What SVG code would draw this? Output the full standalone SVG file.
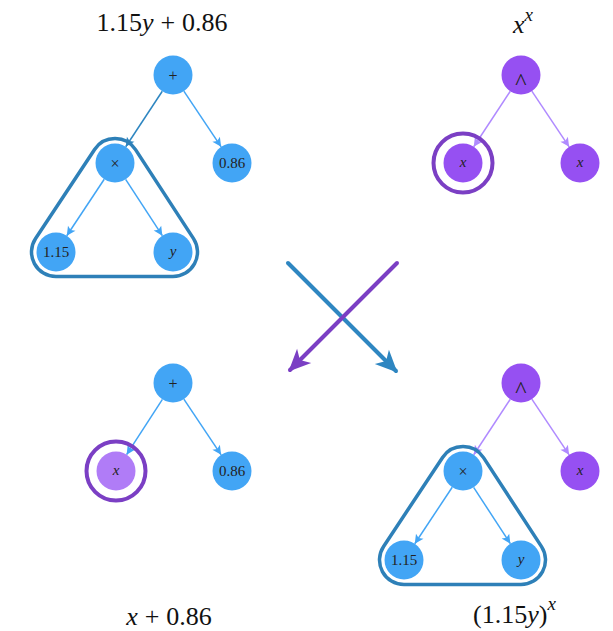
<svg xmlns="http://www.w3.org/2000/svg" width="613" height="631" viewBox="0 0 613 631">
<style>
.nb{fill:#42a5f5}
.np{fill:#9650f2}
.npl{fill:#b07cf7}
.lbl{font-family:"Liberation Serif",serif;font-size:15px;fill:#222;text-anchor:middle}
.op{font-size:16px}
.car{font-size:24px}
.it{font-style:italic}
.title{font-family:"Liberation Serif",serif;font-size:26px;fill:#111}
.e{fill:none;stroke-width:1.5}
.eb{stroke:#42a5f5;marker-end:url(#ab)}
.ed{stroke:#2e86c1;marker-end:url(#ad)}
.ep{stroke:#b08aff;marker-end:url(#ap)}
.tri{fill:none;stroke:#2e80b8;stroke-width:3.5}
.ring{fill:none;stroke:#7b3fc4;stroke-width:4}
.big{fill:none;stroke-width:4;stroke-linecap:round}
</style>
<defs>
<marker id="ab" markerUnits="userSpaceOnUse" markerWidth="12" markerHeight="12" viewBox="-10 -6 12 12" refX="0" refY="0" orient="auto"><path d="M0,0 L-9,-4.5 L-7,0 L-9,4.5 Z" fill="#42a5f5"/></marker>
<marker id="ad" markerUnits="userSpaceOnUse" markerWidth="12" markerHeight="12" viewBox="-10 -6 12 12" refX="0" refY="0" orient="auto"><path d="M0,0 L-9,-4.5 L-7,0 L-9,4.5 Z" fill="#2e86c1"/></marker>
<marker id="ap" markerUnits="userSpaceOnUse" markerWidth="12" markerHeight="12" viewBox="-10 -6 12 12" refX="0" refY="0" orient="auto"><path d="M0,0 L-9,-4.5 L-7,0 L-9,4.5 Z" fill="#b08aff"/></marker>
<marker id="bigb" markerUnits="userSpaceOnUse" markerWidth="26" markerHeight="26" viewBox="-22 -12 26 24" refX="0" refY="0" orient="auto"><path d="M2,0 L-20,-10 L-14,0 L-20,10 Z" fill="#2e86c1"/></marker>
<marker id="bigp" markerUnits="userSpaceOnUse" markerWidth="26" markerHeight="26" viewBox="-22 -12 26 24" refX="0" refY="0" orient="auto"><path d="M2,0 L-20,-10 L-14,0 L-20,10 Z" fill="#7b3fc4"/></marker>
<path id="triShape" d="M94.58,149.46 A24.5,24.5 0 0 1 135.53,149.63 L193.53,238.63 A24.5,24.5 0 0 1 173,276.5 L56,276.5 A24.5,24.5 0 0 1 35.58,238.46 Z"/>
</defs>

<g id="titles">
<text class="title" x="162" y="31" text-anchor="middle">1.15<tspan class="it">y</tspan><tspan dx="7">+</tspan><tspan dx="7">0.86</tspan></text>
<text class="title" x="513" y="33"><tspan class="it">x</tspan><tspan class="it" font-size="19" dy="-12">x</tspan></text>
<text class="title" x="169" y="625" text-anchor="middle"><tspan class="it">x</tspan><tspan dx="7">+</tspan><tspan dx="7">0.86</tspan></text>
<text class="title" x="473" y="623">(1.15<tspan class="it">y</tspan>)<tspan class="it" font-size="19" dy="-13">x</tspan></text>
</g>

<g id="connectors">
<line class="e ed" x1="162.27" y1="91.28" x2="125.73" y2="146.72"/>
<line class="e eb" x1="183.86" y1="91.2" x2="221.14" y2="146.8"/>
<line class="e eb" x1="104.23" y1="179.25" x2="66.77" y2="235.75"/>
<line class="e eb" x1="125.65" y1="179.34" x2="162.35" y2="235.66"/>

<line class="e ep" x1="510.27" y1="91.28" x2="473.73" y2="146.72"/>
<line class="e ep" x1="531.86" y1="91.2" x2="569.14" y2="146.8"/>

<line class="e eb" x1="162.4" y1="399.37" x2="126.6" y2="454.63"/>
<line class="e eb" x1="183.86" y1="399.2" x2="221.14" y2="454.8"/>

<line class="e ep" x1="510.27" y1="399.28" x2="473.73" y2="454.72"/>
<line class="e ep" x1="531.86" y1="399.2" x2="569.14" y2="454.8"/>
<line class="e eb" x1="452.23" y1="487.25" x2="414.77" y2="543.75"/>
<line class="e eb" x1="473.65" y1="487.34" x2="510.35" y2="543.66"/>

<line class="big" stroke="#2e86c1" x1="288" y1="263" x2="396" y2="371" marker-end="url(#bigb)"/>
<line class="big" stroke="#7b3fc4" x1="397" y1="263" x2="290" y2="370" marker-end="url(#bigp)"/>
</g>

<g id="highlights">
<use href="#triShape" class="tri"/>
<use href="#triShape" class="tri" transform="translate(348,308)"/>
<circle class="ring" cx="463" cy="163" r="29.5"/>
<circle class="ring" cx="116" cy="471" r="29.5"/>
</g>

<g id="tl-plus"><circle class="nb" cx="173" cy="75" r="19.5"/><text class="lbl op" x="173" y="80.5">+</text></g>
<g id="tl-times"><circle class="nb" cx="115" cy="163" r="19.5"/><text class="lbl op" x="115" y="168.5">×</text></g>
<g id="tl-086"><circle class="nb" cx="232" cy="163" r="19.5"/><text class="lbl" x="232" y="168">0.86</text></g>
<g id="tl-115"><circle class="nb" cx="56" cy="252" r="19.5"/><text class="lbl" x="56" y="257">1.15</text></g>
<g id="tl-y"><circle class="nb" cx="173" cy="252" r="19.5"/><text class="lbl it" x="173" y="256">y</text></g>

<g id="tr-pow"><circle class="np" cx="521" cy="75" r="19.5"/><text class="lbl car" x="521" y="89">^</text></g>
<g id="tr-x1"><circle class="np" cx="463" cy="163" r="19.5"/><text class="lbl it" x="463" y="167">x</text></g>
<g id="tr-x2"><circle class="np" cx="580" cy="163" r="19.5"/><text class="lbl it" x="580" y="167">x</text></g>

<g id="bl-plus"><circle class="nb" cx="173" cy="383" r="19.5"/><text class="lbl op" x="173" y="388.5">+</text></g>
<g id="bl-x"><circle class="npl" cx="116" cy="471" r="19.5"/><text class="lbl it" x="116" y="475">x</text></g>
<g id="bl-086"><circle class="nb" cx="232" cy="471" r="19.5"/><text class="lbl" x="232" y="476">0.86</text></g>

<g id="br-pow"><circle class="np" cx="521" cy="383" r="19.5"/><text class="lbl car" x="521" y="397">^</text></g>
<g id="br-x"><circle class="np" cx="580" cy="471" r="19.5"/><text class="lbl it" x="580" y="475">x</text></g>
<g id="br-times"><circle class="nb" cx="463" cy="471" r="19.5"/><text class="lbl op" x="463" y="476.5">×</text></g>
<g id="br-115"><circle class="nb" cx="404" cy="560" r="19.5"/><text class="lbl" x="404" y="565">1.15</text></g>
<g id="br-y"><circle class="nb" cx="521" cy="560" r="19.5"/><text class="lbl it" x="521" y="564">y</text></g>
</svg>
